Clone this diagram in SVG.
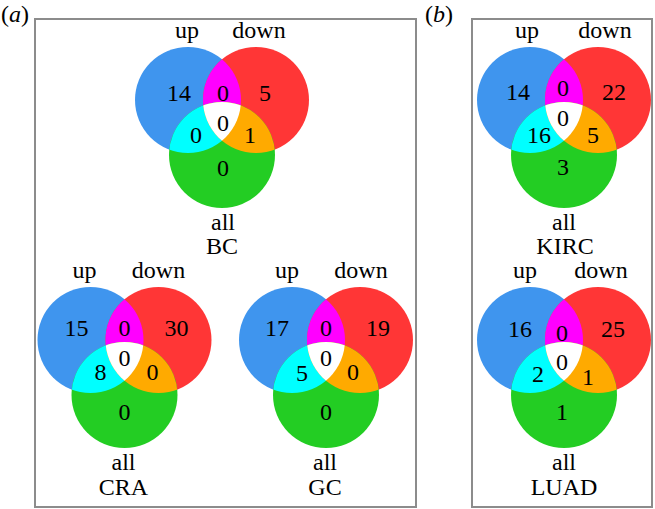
<svg xmlns="http://www.w3.org/2000/svg" xmlns:xlink="http://www.w3.org/1999/xlink" width="655" height="509" viewBox="0 0 655 509" font-family="'Liberation Serif', 'Times New Roman', serif">
<style>
  text { font-family: "Liberation Serif", "Times New Roman", serif; font-size: 24px; fill: #000000; text-anchor: middle; }
  .panel { text-anchor: start; }
  .frame { fill: none; stroke: #8c8c8c; stroke-width: 2; }
</style>
<defs>
  <clipPath id="cb"><circle cx="-34" cy="-55" r="53"/></clipPath>
  <clipPath id="cr"><circle cx="34" cy="-55" r="53"/></clipPath>
  <g id="venn">
    <circle cx="-34" cy="-55" r="53" fill="#3f95ee"/>
    <circle cx="34" cy="-55" r="53" fill="#ff3636"/>
    <circle cx="0" cy="0" r="53" fill="#23cd23"/>
    <circle cx="34" cy="-55" r="53" fill="#ff00ff" clip-path="url(#cb)"/>
    <circle cx="0" cy="0" r="53" fill="#00ffff" clip-path="url(#cb)"/>
    <circle cx="0" cy="0" r="53" fill="#ffaa00" clip-path="url(#cr)"/>
    <g clip-path="url(#cb)"><circle cx="0" cy="0" r="53" fill="#ffffff" clip-path="url(#cr)"/></g>
  </g>
</defs>

<g id="panels">
  <text class="panel" x="1" y="22">(<tspan font-style="italic">a</tspan>)</text>
  <rect class="frame" x="35" y="19" width="381" height="488"/>
  <text class="panel" x="425" y="22">(<tspan font-style="italic">b</tspan>)</text>
  <rect class="frame" x="472" y="19" width="180" height="488"/>
</g>

<g id="venn-BC" transform="translate(222,155)">
  <use href="#venn" xlink:href="#venn"/>
  <text x="-35" y="-117">up</text>
  <text x="37" y="-117">down</text>
  <text x="-43" y="-54">14</text>
  <text x="1" y="-54">0</text>
  <text x="43" y="-54">5</text>
  <text x="1" y="-24">0</text>
  <text x="-26" y="-12">0</text>
  <text x="28" y="-12">1</text>
  <text x="1" y="21">0</text>
  <text x="1" y="75">all</text>
  <text x="0" y="99">BC</text>
</g>

<g id="venn-CRA" transform="translate(124.5,395)">
  <use href="#venn" xlink:href="#venn"/>
  <text x="-40" y="-117">up</text>
  <text x="34" y="-117">down</text>
  <text x="-48" y="-59">15</text>
  <text x="0" y="-59">0</text>
  <text x="52" y="-59">30</text>
  <text x="0" y="-29">0</text>
  <text x="-24" y="-15">8</text>
  <text x="28" y="-15">0</text>
  <text x="0" y="25">0</text>
  <text x="-1" y="75">all</text>
  <text x="-1" y="100">CRA</text>
</g>

<g id="venn-GC" transform="translate(326,395)">
  <use href="#venn" xlink:href="#venn"/>
  <text x="-39" y="-117">up</text>
  <text x="35" y="-117">down</text>
  <text x="-49" y="-59">17</text>
  <text x="0" y="-59">0</text>
  <text x="52" y="-59">19</text>
  <text x="0" y="-29">0</text>
  <text x="-24" y="-14">5</text>
  <text x="27" y="-15">0</text>
  <text x="0" y="25">0</text>
  <text x="-1" y="75">all</text>
  <text x="-1" y="100">GC</text>
</g>

<g id="venn-KIRC" transform="translate(564,155)">
  <use href="#venn" xlink:href="#venn"/>
  <text x="-37" y="-117">up</text>
  <text x="41" y="-117">down</text>
  <text x="-46" y="-55">14</text>
  <text x="-1" y="-59">0</text>
  <text x="50" y="-55">22</text>
  <text x="-1" y="-29">0</text>
  <text x="-25" y="-12">16</text>
  <text x="29" y="-12">5</text>
  <text x="-1" y="20">3</text>
  <text x="0" y="75">all</text>
  <text x="1" y="99">KIRC</text>
</g>

<g id="venn-LUAD" transform="translate(564,395)">
  <use href="#venn" xlink:href="#venn"/>
  <text x="-39" y="-117">up</text>
  <text x="37" y="-117">down</text>
  <text x="-44" y="-58">16</text>
  <text x="-2" y="-54">0</text>
  <text x="49" y="-58">25</text>
  <text x="-2" y="-25">0</text>
  <text x="-26" y="-13">2</text>
  <text x="24" y="-10">1</text>
  <text x="-2" y="25">1</text>
  <text x="0" y="75">all</text>
  <text x="0" y="100">LUAD</text>
</g>
</svg>
